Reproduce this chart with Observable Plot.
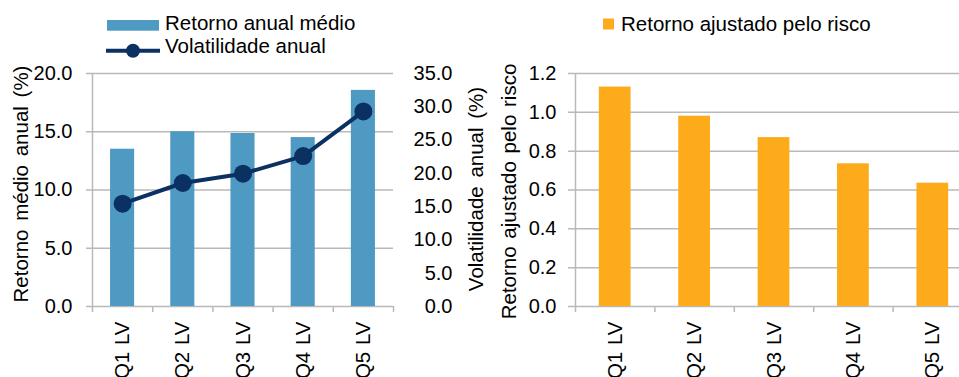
<!DOCTYPE html>
<html>
<head>
<meta charset="utf-8">
<script src="https://cdn.jsdelivr.net/npm/d3@7"></script>
<script src="https://cdn.jsdelivr.net/npm/@observablehq/plot@0.6"></script>
<style>
  html, body { margin: 0; padding: 0; background: #fff; overflow: hidden; }
  #painel { position: relative; width: 959px; height: 377px; overflow: hidden;
            font-family: "Liberation Sans", Arial, sans-serif; }
  #esq, #dir { position: absolute; top: 0; height: 377px; }
  #esq { left: 0; width: 470px; }
  #dir { left: 480px; width: 500px; }
  #esq svg, #dir svg { max-width: none !important; }
  #esq [aria-label="x-axis tick label"], #dir [aria-label="x-axis tick label"] {
    font-size: 20.5px; word-spacing: 1px;
  }
  #sobre { position: absolute; left: 0; top: 0; pointer-events: none; }
</style>
</head>
<body>
<div id="painel">
  <div id="esq"></div>
  <div id="dir"></div>
  <svg id="sobre" width="959" height="377"></svg>
</div>
<script>
// Quintis de baixa volatilidade
const quintis = ["Q1 LV", "Q2 LV", "Q3 LV", "Q4 LV", "Q5 LV"];
// Retorno anual médio (%)
const retornoMedio = [13.5, 15.0, 14.85, 14.5, 18.55];
// Volatilidade anual (%)
const volatilidade = [15.45, 18.55, 19.95, 22.6, 29.3];
// Retorno ajustado pelo risco
const retornoAjustado = [1.13, 0.98, 0.87, 0.735, 0.635];

// Marcas dos eixos
const retornoTicks = [0, 5, 10, 15, 20];
const volTicks = [0, 5, 10, 15, 20, 25, 30, 35];
const ajustadoTicks = [0, 0.2, 0.4, 0.6, 0.8, 1.0, 1.2];

// Textos
const serieRetorno = "Retorno anual médio";
const serieVol = "Volatilidade anual";
const serieAjustado = "Retorno ajustado pelo risco";
const tituloEsq = "Retorno médio anual (%)";
const tituloDirEsq = "Volatilidade anual (%)";
const tituloDir = "Retorno ajustado pelo risco";

const azul = "#4f9ac3";
const marinho = "#0b3162";
const laranja = "#fdab1b";
const cinza = "#b9b9b9";
const fonte = '"Liberation Sans", Arial, sans-serif';

const linhas = quintis.map((q, i) => ({
  i, q, retorno: retornoMedio[i], vol: volatilidade[i], ajustado: retornoAjustado[i]
}));
const limites = d3.range(quintis.length + 1);
const centros = quintis.map((q, i) => i + 0.5);

const estilo = { fontFamily: fonte, fontSize: "20px", color: "#000", background: "transparent", overflow: "visible", maxWidth: "none" };

// eixo secundário: volatilidade 0–35 sobre o domínio do retorno 0–20
const escala = retornoTicks[retornoTicks.length - 1] / volTicks[volTicks.length - 1];

function marcasBase(ticksY, inset) {
  return [
    Plot.ruleY(ticksY, { stroke: cinza, strokeWidth: 1.5, insetLeft: -inset }),
    Plot.ruleX([0], { stroke: cinza, strokeWidth: 1.5 }),
    Plot.axisX(limites, { tickSize: 6, stroke: cinza, strokeWidth: 1.5, strokeOpacity: 1, tickFormat: () => "", label: null })
  ];
}

function eixoCategorias() {
  return Plot.axisX(centros, {
    tickSize: 0, tickPadding: 15, tickRotate: -90, fontSize: 20,
    tickFormat: v => quintis[Math.floor(v)], label: null, fill: "#000"
  });
}

const esq = Plot.plot({
  width: 470, height: 377,
  marginLeft: 92, marginRight: 77, marginTop: 73, marginBottom: 71,
  style: estilo,
  x: { type: "linear", domain: [0, quintis.length] },
  y: { domain: [0, 20] },
  marks: [
    ...marcasBase(retornoTicks, 6),
    Plot.rectY(linhas, { x1: d => d.i + 0.3, x2: d => d.i + 0.7, y1: 0, y2: "retorno", fill: azul }),
    eixoCategorias(),
    Plot.axisY(retornoTicks, { anchor: "left", tickSize: 0, tickPadding: 20, fontSize: 20, tickFormat: d => d.toFixed(1), label: null }),
    Plot.axisY(volTicks.map(v => v * escala), {
      anchor: "right", tickSize: 0, tickPadding: 59, textAnchor: "end", fontSize: 20,
      tickFormat: d => (d / escala).toFixed(1), label: null
    }),
    Plot.line(linhas, { x: d => d.i + 0.5, y: d => d.vol * escala, stroke: marinho, strokeWidth: 4, strokeLinejoin: "round" }),
    Plot.dot(linhas, { x: d => d.i + 0.5, y: d => d.vol * escala, r: 9, fill: marinho, stroke: "none" })
  ]
});
document.getElementById("esq").appendChild(esq);

const dir = Plot.plot({
  width: 500, height: 377,
  marginLeft: 95, marginRight: 8, marginTop: 73, marginBottom: 71,
  style: estilo,
  x: { type: "linear", domain: [0, quintis.length] },
  y: { domain: [0, 1.2] },
  marks: [
    ...marcasBase(ajustadoTicks, 7),
    Plot.rectY(linhas, { x1: d => d.i + 0.3, x2: d => d.i + 0.7, y1: 0, y2: "ajustado", fill: laranja }),
    eixoCategorias(),
    Plot.axisY(ajustadoTicks, { anchor: "left", tickSize: 0, tickPadding: 19, fontSize: 20, tickFormat: d => d.toFixed(1), label: null })
  ]
});
document.getElementById("dir").appendChild(dir);

// Legendas e títulos dos eixos
const sobre = d3.select("#sobre").style("font-family", fonte);

sobre.append("rect").attr("x", 107).attr("y", 20).attr("width", 52).attr("height", 10.7).attr("fill", azul);
sobre.append("text").attr("x", 165).attr("y", 30).attr("font-size", 20.5).text(serieRetorno);
sobre.append("line").attr("x1", 106).attr("x2", 160).attr("y1", 50.7).attr("y2", 50.7)
  .attr("stroke", marinho).attr("stroke-width", 4);
sobre.append("circle").attr("cx", 133).attr("cy", 50.7).attr("r", 7).attr("fill", marinho);
sobre.append("text").attr("x", 165).attr("y", 53.3).attr("font-size", 20.5).text(serieVol);

sobre.append("rect").attr("x", 603).attr("y", 18.5).attr("width", 11).attr("height", 11).attr("fill", laranja);
sobre.append("text").attr("x", 621).attr("y", 31).attr("font-size", 20.5).text(serieAjustado);

[[tituloEsq, 20, 184, 3], [tituloDirEsq, 475, 189, 3], [tituloDir, 508, 191.5, 2]].forEach(([t, x, y, ws]) => {
  sobre.append("text")
    .attr("transform", `translate(${x},${y}) rotate(-90)`)
    .attr("text-anchor", "middle")
    .attr("dominant-baseline", "central")
    .attr("font-size", 20.5)
    .style("word-spacing", `${ws}px`)
    .text(t);
});
</script>
</body>
</html>
